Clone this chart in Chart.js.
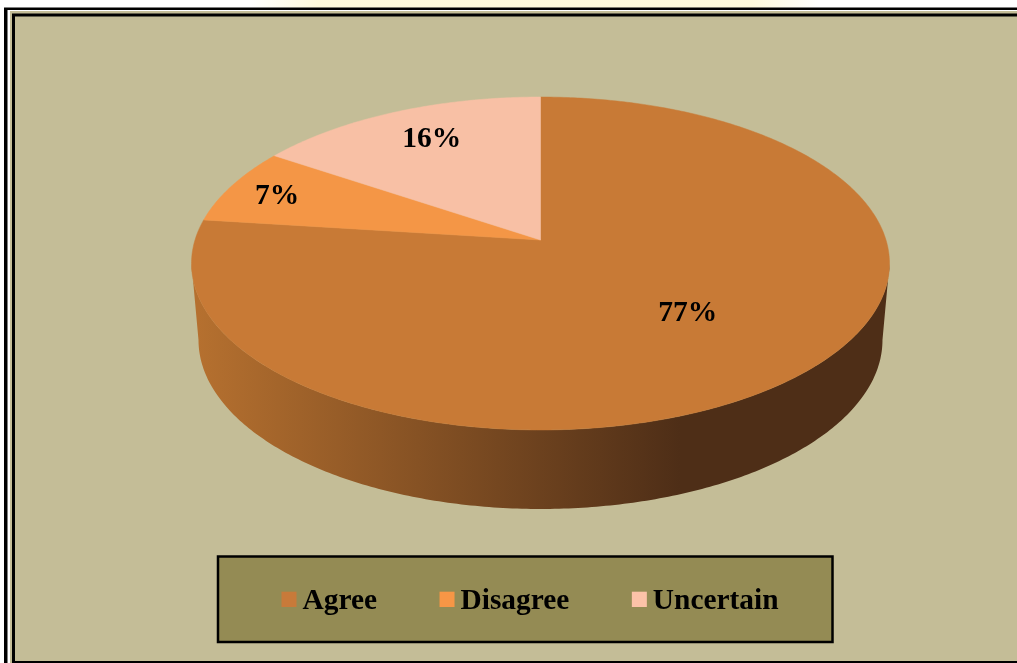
<!DOCTYPE html>
<html>
<head>
<meta charset="utf-8">
<style>
html,body{margin:0;padding:0;background:#fff;overflow:hidden}
#wrap{position:absolute;left:0;top:0;width:1017px;height:663px}
canvas{display:block}
</style>
<script src="https://cdn.jsdelivr.net/npm/chart.js@4/dist/chart.umd.js"></script>
</head>
<body>
<div id="wrap"><canvas id="c" width="1017" height="663"></canvas></div>
<script>
const categories = ['Agree', 'Disagree', 'Uncertain'];
const shares = [77, 7.4, 15.6];
const sliceColors = ['#C87A36', '#F49646', '#F8C0A5'];
const legendColors = ['#C87A3A', '#F79646', '#FCC2A8'];

/* Perspective projection of the unit disc on to the page */
const view = {cx: 540.5, s: 345.5, a: 129.3, b: 240, c: -0.1411};
const wall = {cx: 540, rx: 342 / 349, cy0: 263.5, cy1: 340, ry: 169 / 166.5};
const FONT = 'bold 29.4px "Liberation Serif"';
const LABEL_FONT = 'bold 29.5px "Liberation Serif"';

function project(u, v) {
  const w = 1 + view.c * v;
  return {x: view.cx + view.s * u / w, y: (view.a * v + view.b) / w};
}
function rimBottom(p) {
  return {
    x: wall.cx + (p.x - wall.cx) * wall.rx,
    y: wall.cy1 + (p.y - wall.cy0) * wall.ry
  };
}

class PerspectiveArc extends Chart.ArcElement {
  static id = 'perspectiveArc';
  draw(ctx) {
    const {startAngle, endAngle} = this;
    const steps = Math.max(4, Math.ceil((endAngle - startAngle) * 90));
    ctx.save();
    ctx.beginPath();
    const o = project(0, 0);
    ctx.moveTo(o.x, o.y);
    for (let i = 0; i <= steps; i++) {
      const t = startAngle + (endAngle - startAngle) * i / steps;
      const p = project(Math.cos(t), Math.sin(t));
      ctx.lineTo(p.x, p.y);
    }
    ctx.closePath();
    ctx.fillStyle = this.options.backgroundColor;
    ctx.strokeStyle = this.options.backgroundColor;
    ctx.lineWidth = 0.5;
    ctx.fill();
    ctx.stroke();
    ctx.restore();
  }
}
class PerspectivePie extends Chart.PieController {
  static id = 'perspectivePie';
  static defaults = {dataElementType: 'perspectiveArc'};
}
Chart.register(PerspectiveArc, PerspectivePie);

const framePlugin = {
  id: 'frame',
  beforeDraw(chart) {
    const ctx = chart.ctx;
    ctx.save();
    ctx.fillStyle = '#fff';
    ctx.fillRect(0, 0, 1017, 663);
    const glow = ctx.createLinearGradient(250, 0, 820, 0);
    glow.addColorStop(0, 'rgba(255,250,215,0)');
    glow.addColorStop(0.12, 'rgba(255,250,215,0.9)');
    glow.addColorStop(0.88, 'rgba(255,250,215,0.9)');
    glow.addColorStop(1, 'rgba(255,250,215,0)');
    ctx.fillStyle = glow;
    ctx.fillRect(250, 0, 570, 8);
    ctx.fillStyle = '#000';
    ctx.fillRect(4, 7.5, 1013, 655.5);
    ctx.fillStyle = '#fff';
    ctx.fillRect(7.5, 10, 1009.5, 653);
    ctx.fillStyle = '#C4BD97';
    ctx.fillRect(10, 11, 1007, 652);
    ctx.fillStyle = '#000';
    ctx.fillRect(12, 13.5, 1005, 649.5);
    ctx.fillStyle = '#C4BD97';
    ctx.fillRect(15, 16.5, 1002, 644.5);

    /* side wall of the disc */
    const tangent = Math.asin(-view.c);
    const n = 240, top = [];
    for (let i = 0; i <= n; i++) {
      const t = tangent + (Math.PI - 2 * tangent) * i / n;
      top.push(project(Math.cos(t), Math.sin(t)));
    }
    const grad = ctx.createLinearGradient(198, 0, 680, 0);
    grad.addColorStop(0, '#B5702F');
    grad.addColorStop(1, '#4E2E17');
    ctx.beginPath();
    top.forEach((p, i) => i ? ctx.lineTo(p.x, p.y) : ctx.moveTo(p.x, p.y));
    top.slice().reverse().forEach(p => {
      const q = rimBottom(p);
      ctx.lineTo(q.x, q.y);
    });
    ctx.closePath();
    ctx.fillStyle = grad;
    ctx.fill();
    ctx.restore();
  }
};

const labelPlugin = {
  id: 'sliceLabels',
  afterDatasetsDraw(chart, args, opts) {
    const ctx = chart.ctx;
    const total = shares.reduce((a, b) => a + b, 0);
    ctx.save();
    ctx.font = LABEL_FONT;
    ctx.fillStyle = '#000';
    ctx.textAlign = 'center';
    ctx.textBaseline = 'middle';
    chart.getDatasetMeta(0).data.forEach((arc, i) => {
      const mid = (arc.startAngle + arc.endAngle) / 2 + opts.turn[i];
      const p = project(opts.radius[i] * Math.cos(mid), opts.radius[i] * Math.sin(mid));
      ctx.fillText(Math.round(shares[i] / total * 100) + '%', p.x, p.y + opts.dy);
    });
    ctx.restore();
  }
};

const legendPlugin = {
  id: 'boxedLegend',
  afterDraw(chart) {
    const ctx = chart.ctx;
    ctx.save();
    ctx.fillStyle = '#948B54';
    ctx.fillRect(218, 556.5, 614.5, 85.5);
    ctx.strokeStyle = '#000';
    ctx.lineWidth = 2.5;
    ctx.strokeRect(218, 556.5, 614.5, 85.5);
    ctx.font = FONT;
    ctx.textAlign = 'left';
    ctx.textBaseline = 'alphabetic';
    let x = 281.5;
    categories.forEach((name, i) => {
      ctx.fillStyle = legendColors[i];
      ctx.fillRect(x, 591.7, 15, 15.3);
      ctx.fillStyle = '#000';
      ctx.fillText(name, x + 21, 609);
      x += 21 + ctx.measureText(name).width + 62.5;
    });
    ctx.restore();
  }
};

new Chart(document.getElementById('c'), {
  type: 'perspectivePie',
  data: {
    labels: categories,
    datasets: [{data: shares, backgroundColor: sliceColors, borderWidth: 0}]
  },
  options: {
    responsive: false,
    animation: false,
    plugins: {
      legend: {display: false},
      tooltip: {enabled: false},
      sliceLabels: {radius: [0.575, 0.845, 0.77], turn: [-0.05, -0.007, 0.025], dy: 2}
    }
  },
  plugins: [framePlugin, labelPlugin, legendPlugin]
});
</script>
</body>
</html>
